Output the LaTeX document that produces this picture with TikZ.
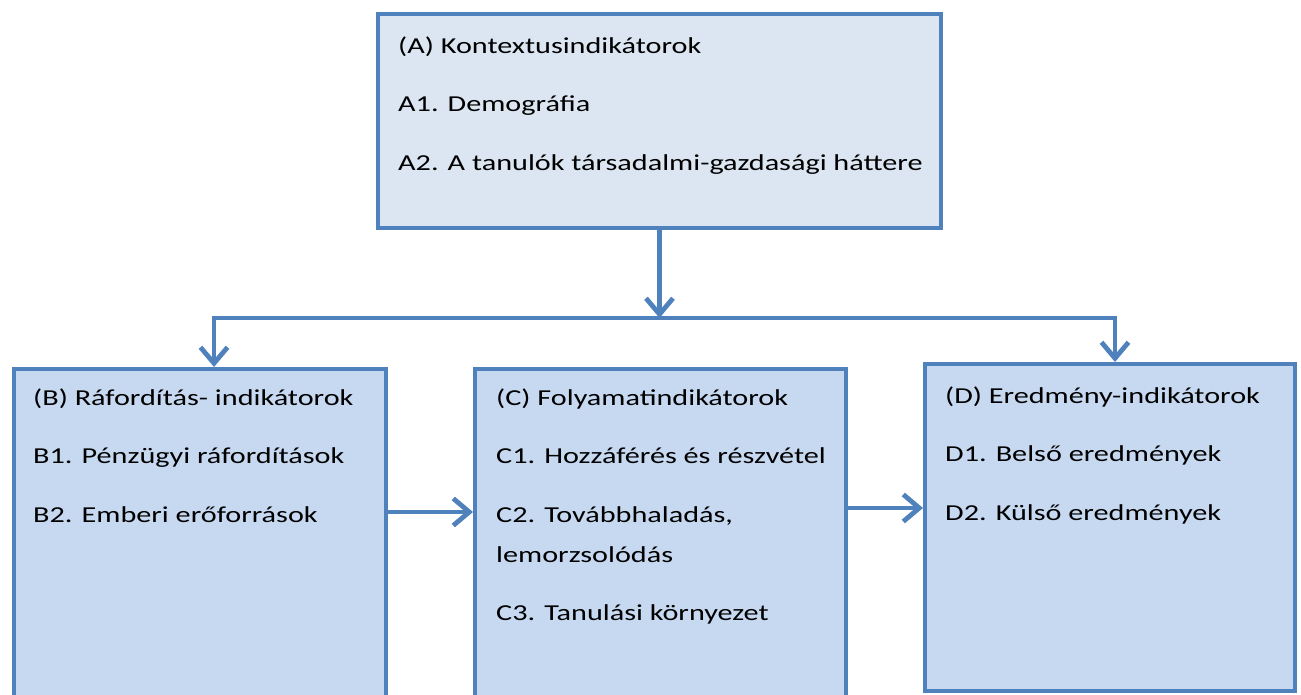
\documentclass[tikz,border=0pt]{standalone}
\usepackage{fontspec}
\setmainfont{Carlito}[FakeStretch=1.325]
\usetikzlibrary{arrows.meta}

\definecolor{boxline}{HTML}{4F81BD}
\definecolor{ctxfill}{HTML}{DCE6F2}
\definecolor{indfill}{HTML}{C6D9F1}

\tikzset{
	indbox/.style={shape=rectangle, draw=boxline, line width=4pt, fill=indfill},
	boxtext/.style={anchor=north west, align=left, inner sep=0pt,
		font=\fontsize{22.8}{40}\selectfont},
	arrow/.style={draw=boxline, line width=4.8pt,
		-{Straight Barb[length=16pt, width=27pt]}},
}

\begin{document}
\begin{tikzpicture}[x=1pt, y=-1pt]
	\useasboundingbox (0, 0) rectangle (1301, 695);
	\clip (0, 0) rectangle (1301, 695);
	% Boxes:
	\node[indbox, fill=ctxfill, minimum width=563pt, minimum height=214pt]
	(A) at (659.5, 121){};
	\node[indbox, minimum width=372pt, minimum height=391pt]
	(B) at (200, 564.5){};
	\node[indbox, minimum width=371pt, minimum height=391pt]
	(C) at (660.5, 564.5){};
	\node[indbox, minimum width=370pt, minimum height=327pt]
	(D) at (1110, 527.5){};
	
	% Texts inside the boxes
	\node[boxtext] (Atext) at (398, 25){\strut(A) Kontextusindikátorok\\[18.5pt]
		A1. Demográfia\\[18.5pt]
		A2. A tanulók társadalmi-gazdasági háttere};
	\node[boxtext] (Btext) at (33, 377){\strut(B) Ráfordítás- indikátorok\\[18.5pt]
		B1. Pénzügyi ráfordítások\\[18.5pt]
		B2. Emberi erőforrások};
	\node[boxtext] (Ctext) at (496, 377){\strut(C) Folyamatindikátorok\\[18.5pt]
		C1. Hozzáférés és részvétel\\[18.5pt]
		C2. Továbbhaladás,\\
		lemorzsolódás\\[18.5pt]
		C3. Tanulási környezet};
	\node[boxtext] (Dtext) at (945, 375){\strut(D) Eredmény-indikátorok\\[18.5pt]
		D1. Belső eredmények\\[18.5pt]
		D2. Külső eredmények};
	
	% Split line under the context box
	\coordinate (split) at (659.5, 318);
	\coordinate (Bin) at (214, 300);
	\coordinate (Din) at (1115, 300);
	\draw[arrow] (A.south) -- (split);
	\draw[arrow] (split) -| (B.north -| Bin);
	\draw[arrow] (split) -| (D.north -| Din);
	
	% Arrows from input to process to output
	\coordinate (bc) at (0, 512);
	\coordinate (cd) at (0, 508);
	\draw[arrow] (B.east |- bc) -- (C.west |- bc);
	\draw[arrow] (C.east |- cd) -- (D.west |- cd);
\end{tikzpicture}
\end{document}
